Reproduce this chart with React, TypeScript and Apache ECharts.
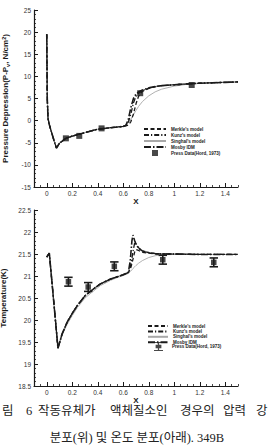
import React, { useEffect, useRef } from 'react';
import * as echarts from 'echarts';

// ---- shared x axis ----
const xTicks = [0, 0.2, 0.4, 0.6, 0.8, 1, 1.2, 1.4];

// ---- upper panel: pressure depression (N/cm^2) ----
const pX = [0, 0.004, 0.01, 0.02, 0.035, 0.055, 0.076, 0.1, 0.15, 0.2, 0.25, 0.3, 0.4, 0.5, 0.6,
  0.62, 0.64, 0.66, 0.68, 0.7, 0.72, 0.75, 0.8, 0.85, 0.9, 1.0, 1.1, 1.2, 1.3, 1.4, 1.5];
const pMosby = [19.5, 5, 0.5, -0.9, -2.4, -4.3, -6.2, -5.1, -4.0, -3.5, -3.1, -2.7, -1.95, -1.6, -1.3,
  -1.1, 0.3, 3.0, 5.0, 6.0, 6.5, 6.9, 7.4, 7.7, 7.9, 8.1, 8.3, 8.45, 8.55, 8.65, 8.75];
const pKunz = [19.5, 5, 0.5, -0.9, -2.4, -4.3, -6.2, -5.1, -4.0, -3.5, -3.1, -2.7, -1.95, -1.6, -1.3,
  -1.1, -0.3, 1.5, 4.0, 5.5, 6.2, 6.8, 7.35, 7.7, 7.9, 8.1, 8.3, 8.45, 8.55, 8.65, 8.75];
const pMerkle = [19.5, 5, 0.5, -0.9, -2.4, -4.3, -6.2, -5.1, -4.0, -3.5, -3.1, -2.7, -1.95, -1.6, -1.3,
  -1.2, -1.0, -0.2, 1.5, 3.8, 5.5, 6.6, 7.3, 7.65, 7.9, 8.1, 8.3, 8.45, 8.55, 8.65, 8.75];
const pSinghal = [19.5, 5, 0.5, -0.9, -2.4, -4.3, -6.2, -5.1, -4.0, -3.5, -3.1, -2.7, -1.95, -1.6, -1.3,
  -0.9, -0.5, 0.3, 1.3, 2.3, 3.2, 4.3, 5.6, 6.5, 7.1, 7.8, 8.2, 8.42, 8.55, 8.65, 8.75];
const pDataX = [0.15, 0.255, 0.43, 0.733, 1.137];
const pDataY = [-4.0, -3.45, -1.75, 6.2, 8.05];

// ---- lower panel: temperature (K) ----
const tX = [0, 0.02, 0.05, 0.088, 0.12, 0.16, 0.2, 0.24, 0.3, 0.35, 0.42, 0.5, 0.55, 0.6, 0.64,
  0.655, 0.668, 0.676, 0.69, 0.7, 0.72, 0.75, 0.8, 0.85, 0.9, 1.0, 1.2, 1.5];
const tMosby = [21.43, 21.52, 20.57, 19.36, 19.68, 19.95, 20.15, 20.33, 20.55, 20.67, 20.82, 20.93, 20.98, 21.03, 21.08,
  21.35, 21.8, 21.93, 21.8, 21.72, 21.63, 21.57, 21.53, 21.51, 21.5, 21.5, 21.49, 21.49];
const tKunz = [21.43, 21.52, 20.57, 19.36, 19.68, 19.95, 20.15, 20.33, 20.55, 20.67, 20.82, 20.93, 20.98, 21.03, 21.08,
  21.2, 21.4, 21.55, 21.76, 21.74, 21.64, 21.57, 21.53, 21.51, 21.5, 21.5, 21.49, 21.49];
const tMerkle = [21.43, 21.52, 20.57, 19.36, 19.68, 19.95, 20.15, 20.33, 20.55, 20.67, 20.82, 20.93, 20.98, 21.03, 21.08,
  21.15, 21.28, 21.38, 21.55, 21.6, 21.58, 21.54, 21.52, 21.5, 21.5, 21.5, 21.49, 21.49];
const tSinghal = [21.43, 21.52, 20.57, 19.36, 19.66, 19.9, 20.1, 20.28, 20.5, 20.62, 20.78, 20.9, 20.96, 21.01, 21.06,
  21.1, 21.14, 21.17, 21.21, 21.24, 21.29, 21.35, 21.42, 21.46, 21.48, 21.49, 21.49, 21.49];
const tDataX = [0.17, 0.325, 0.53, 0.91, 1.31];
const tDataY = [20.87, 20.75, 21.22, 21.37, 21.31];
const tDataErr = [0.1, 0.1, 0.1, 0.1, 0.1];

const CAPTION_1: [string, number][] = [
  ['림', 2], ['6', 26], ['작동유체가', 38], ['액체질소인', 110], ['경우의', 180], ['압력', 223], ['강', 256],
];
const CAPTION_2 = '분포(위) 및 온도 분포(아래). 349B';

const NAMES = {
  merkle: "Merkle's model",
  kunz: "Kunz's model",
  singhal: "Singhal's model",
  mosby: 'Mosby IDM',
  data: 'Press Data(Hord, 1973)',
};

const FONT = "'Liberation Sans', Arial, sans-serif";
const CAPTION_FONT = "'Liberation Serif', 'Noto Sans CJK KR', serif";
const INK = '#1a1a1a';
const zip = (xs: number[], ys: number[]) => xs.map((x, i) => [x, ys[i]]);

const STYLES: Record<string, any> = {
  singhal: { color: '#a8a8a8', width: 0.9, type: 'solid' },
  merkle: { color: INK, width: 1.3, type: [4, 2.5] },
  kunz: { color: INK, width: 1.3, type: [5, 2, 1.2, 2] },
  mosby: { color: INK, width: 1.6, type: [7, 2, 1.5, 2] },
};

function lineSeries(key: string, xs: number[], ys: number[], xAxisIndex: number, yAxisIndex: number) {
  const ls = STYLES[key];
  return {
    type: 'line',
    name: (NAMES as any)[key],
    xAxisIndex,
    yAxisIndex,
    data: zip(xs, ys),
    symbol: 'none',
    lineStyle: ls,
    itemStyle: { color: ls.color },
    z: key === 'singhal' ? 1 : 2,
  };
}

function xAxes(gridIndex: number, nameGap: number) {
  return [
    {
      type: 'value', gridIndex, min: -0.1, max: 1.5, position: 'bottom',
      name: 'X', nameLocation: 'middle', nameGap,
      nameTextStyle: { fontSize: 8, fontWeight: 'bold', color: INK, fontFamily: FONT, lineHeight: 8 },
      axisLine: { onZero: false, lineStyle: { color: INK, width: 1.2 } },
      axisTick: { inside: true, length: 4, customValues: xTicks, lineStyle: { color: INK, width: 1 } },
      axisLabel: { customValues: xTicks, fontSize: 6.5, color: '#333', margin: 3, fontFamily: FONT },
      splitLine: { show: false },
    },
    {
      type: 'value', gridIndex, min: -0.1, max: 1.5, interval: 0.05, position: 'bottom',
      axisLine: { show: false, onZero: false },
      axisTick: { inside: true, length: 2, lineStyle: { color: INK, width: 0.8 } },
      axisLabel: { show: false },
      splitLine: { show: false },
    },
  ];
}

function yAxis(gridIndex: number, min: number, max: number, interval: number, name: string, nameGap: number, rich?: any) {
  return {
    type: 'value', gridIndex, min, max, interval,
    name, nameLocation: 'middle', nameGap, nameRotate: 90,
    nameTextStyle: { fontSize: 8, fontWeight: 'bold', color: INK, fontFamily: FONT, rich },
    axisLine: { onZero: false, lineStyle: { color: INK, width: 1.2 } },
    axisTick: { inside: true, length: 4, lineStyle: { color: INK, width: 1 } },
    minorTick: { show: true, splitNumber: 5, length: 2, lineStyle: { color: INK, width: 0.8 } },
    axisLabel: { fontSize: 6.5, color: '#333', margin: 3, fontFamily: FONT },
    splitLine: { show: false },
    minorSplitLine: { show: false },
  };
}

const legendText = { fontSize: 4.5, fontWeight: 'bold', color: INK, fontFamily: FONT, lineHeight: 5 };
// line legends: hide the marker ECharts puts in the middle of a line icon
const hiddenMarker = { opacity: 0, color: 'transparent', borderWidth: 0 };
const IBEAM = 'path://M0,0H10V1.2H5.7V3H8.2V7H5.7V8.8H10V10H0V8.8H4.3V7H1.8V3H4.3V1.2H0Z';

export default function App() {
  const ref = useRef<HTMLDivElement>(null);

  useEffect(() => {
    document.body.style.margin = '0';
    const chart = echarts.init(ref.current!, undefined, { renderer: 'svg' });

    const option: any = {
      animation: false,
      backgroundColor: '#ffffff',
      grid: [
        { left: 34, top: 10, width: 204, height: 177, outerBoundsMode: 'none' },
        { left: 34, top: 210, width: 204, height: 176, outerBoundsMode: 'none' },
      ],
      xAxis: [...xAxes(0, 9), ...xAxes(1, 6)],
      yAxis: [
        yAxis(0, -15, 25, 5, '{a|Pressure Depression(P-P}{s|v}{a|, N/cm}{p|2}{a|)}', 17, {
          a: { fontSize: 8, fontWeight: 'bold', color: INK, fontFamily: FONT, lineHeight: 10 },
          s: { fontSize: 5.5, fontWeight: 'bold', color: INK, fontFamily: FONT, lineHeight: 6, verticalAlign: 'bottom' },
          p: { fontSize: 5.5, fontWeight: 'bold', color: INK, fontFamily: FONT, lineHeight: 6, verticalAlign: 'top' },
        }),
        yAxis(1, 18.5, 22.5, 0.5, 'Temperature(K)', 15),
      ],
      legend: [
        {
          left: 143, top: 126.5, orient: 'vertical', padding: 0, itemWidth: 22, itemHeight: 5, itemGap: 1,
          selectedMode: false, textStyle: legendText, itemStyle: hiddenMarker,
          data: [NAMES.merkle, NAMES.kunz, NAMES.singhal, NAMES.mosby],
        },
        {
          left: 152, top: 150, orient: 'vertical', padding: 0, itemWidth: 6, itemHeight: 6,
          selectedMode: false, textStyle: { ...legendText, padding: [0, 0, 0, 8] },
          data: [{ name: NAMES.data, icon: 'rect' }],
        },
        {
          left: 147, top: 323.5, orient: 'vertical', padding: 0, itemWidth: 20, itemHeight: 5, itemGap: 0.4,
          selectedMode: false, textStyle: legendText, itemStyle: hiddenMarker,
          data: [NAMES.merkle, NAMES.kunz, NAMES.singhal, NAMES.mosby],
        },
        {
          left: 154, top: 342, orient: 'vertical', padding: 0, itemWidth: 9, itemHeight: 10,
          selectedMode: false, textStyle: { ...legendText, padding: [0, 0, 0, 4] },
          data: [{ name: NAMES.data, icon: IBEAM }],
        },
      ],
      series: [
        // upper panel
        lineSeries('singhal', pX, pSinghal, 0, 0),
        lineSeries('merkle', pX, pMerkle, 0, 0),
        lineSeries('kunz', pX, pKunz, 0, 0),
        lineSeries('mosby', pX, pMosby, 0, 0),
        {
          type: 'scatter', name: NAMES.data, xAxisIndex: 0, yAxisIndex: 0,
          data: zip(pDataX, pDataY), symbol: 'rect', symbolSize: 6,
          itemStyle: { color: INK }, z: 5,
        },
        // lower panel
        lineSeries('singhal', tX, tSinghal, 2, 1),
        lineSeries('merkle', tX, tMerkle, 2, 1),
        lineSeries('kunz', tX, tKunz, 2, 1),
        lineSeries('mosby', tX, tMosby, 2, 1),
        {
          type: 'scatter', name: NAMES.data, xAxisIndex: 2, yAxisIndex: 1,
          data: zip(tDataX, tDataY), symbol: 'rect', symbolSize: 5.5,
          itemStyle: { color: INK }, z: 5,
        },
        {
          type: 'custom', name: NAMES.data, xAxisIndex: 2, yAxisIndex: 1, z: 5,
          data: tDataX.map((x, i) => [x, tDataY[i], tDataErr[i]]),
          encode: { x: 0, y: 1 },
          renderItem: (_params: any, api: any) => {
            const x = api.value(0);
            const y = api.value(1);
            const e = api.value(2);
            const hi = api.coord([x, y + e]);
            const lo = api.coord([x, y - e]);
            const hw = 4.2;
            const style = { stroke: INK, lineWidth: 1.6, fill: 'none' };
            return {
              type: 'group',
              children: [
                { type: 'line', shape: { x1: hi[0], y1: hi[1], x2: lo[0], y2: lo[1] }, style },
                { type: 'line', shape: { x1: hi[0] - hw, y1: hi[1], x2: hi[0] + hw, y2: hi[1] }, style },
                { type: 'line', shape: { x1: lo[0] - hw, y1: lo[1], x2: lo[0] + hw, y2: lo[1] }, style },
              ],
            };
          },
        },
      ],
      graphic: [
        ...CAPTION_1.map(([text, x]) => ({
          type: 'text', x, y: 411,
          style: {
            text, fontSize: 12.5, lineHeight: 12.5, fill: '#222', verticalAlign: 'middle', align: 'left',
            fontFamily: CAPTION_FONT,
          },
        })),
        {
          type: 'text', x: 137, y: 438,
          style: {
            text: CAPTION_2, fontSize: 12.5, lineHeight: 12.5, fill: '#222', verticalAlign: 'middle', align: 'center',
            fontFamily: CAPTION_FONT,
          },
        },
      ],
    };

    chart.setOption(option);
    return () => chart.dispose();
  }, []);

  return (
    <div
      ref={ref}
      style={{ position: 'fixed', left: 0, top: 0, width: 272, height: 445, background: '#fff' }}
    />
  );
}
